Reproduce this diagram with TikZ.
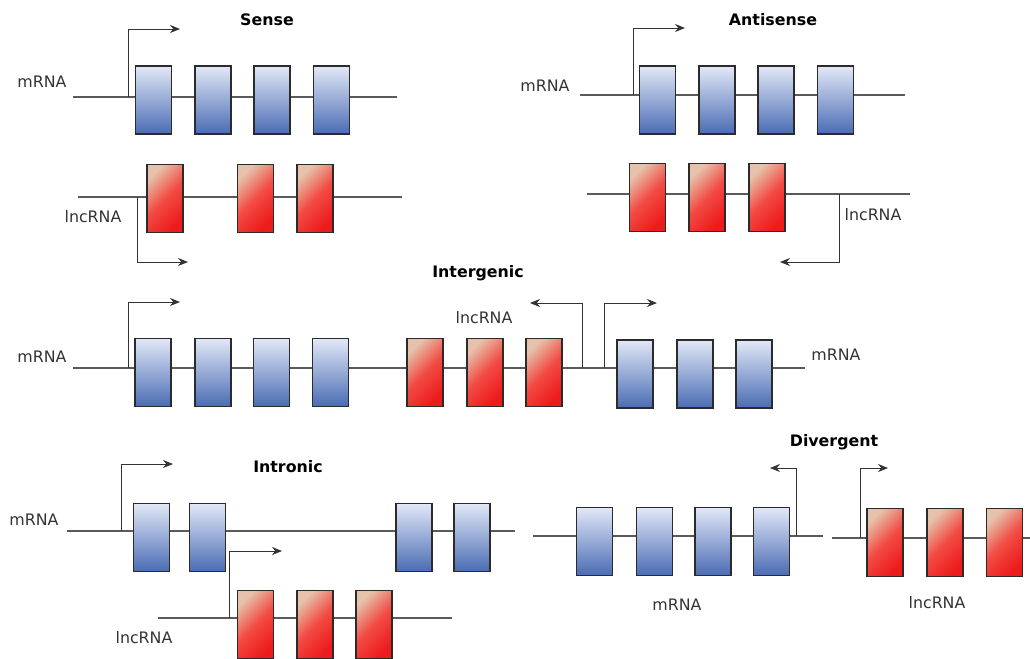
\documentclass[tikz,border=0pt]{standalone}
\usepackage{fontspec}
\setmainfont{DejaVu Sans}
\usetikzlibrary{arrows.meta}
\definecolor{bluetop}{HTML}{E2E8F7}
\definecolor{bluebot}{HTML}{4A6CB4}
\definecolor{redtop}{HTML}{E6C2AC}
\definecolor{redbot}{HTML}{EC1C1C}
\definecolor{boxline}{HTML}{2B2B2B}
\definecolor{backbone}{HTML}{5A5A5A}
\definecolor{labelgray}{HTML}{333333}
\tikzset{
  exon/.style={rectangle, draw=boxline, line width=1.4pt, minimum width=1.08cm, minimum height=2.04cm, inner sep=0pt},
  bluebox/.style={exon, top color=bluetop, bottom color=bluebot},
  redbox/.style={exon, top color=redtop, bottom color=redbot, middle color=red!55!redtop!80!redbot, shading angle=45},
  strand/.style={draw=backbone, line width=1pt},
  tss/.style={draw=black!80, line width=0.8pt, -{Stealth[length=3mm,width=2.4mm]}},
  lbl/.style={text=labelgray, font=\fontsize{13.5}{16}\selectfont, inner sep=0pt},
  ttl/.style={text=black, font=\fontsize{13.5}{16}\selectfont\bfseries, inner sep=0pt}
}
\begin{document}
\begin{tikzpicture}[x=0.03cm, y=-0.03cm]
\path[use as bounding box, fill=white] (0,0) rectangle (1030,658);

% ---------------- Sense ----------------
\node[ttl] (tSense) at (267,20) {Sense};
\node[lbl] (lSm) at (42,82) {mRNA};
\node[lbl] (lSl) at (93,217) {lncRNA};
\coordinate (sA) at (73,97); \coordinate (sB) at (397,97);
\coordinate (sC) at (78,197); \coordinate (sD) at (402,197);
\coordinate (sP1) at (128,97); \coordinate (sE1) at (180,29);
\coordinate (sP2) at (137,197); \coordinate (sE2) at (188,262);
\draw[strand] (sA) -- (sB);
\draw[strand] (sC) -- (sD);
\draw[tss] (sP1) |- (sE1);
\draw[tss] (sP2) |- (sE2);
\node[bluebox] (sb1) at (153.5,100) {};
\node[bluebox] (sb2) at (213,100) {};
\node[bluebox] (sb3) at (272,100) {};
\node[bluebox] (sb4) at (331.5,100) {};
\node[redbox] (sr1) at (165,198.5) {};
\node[redbox] (sr2) at (255.5,198.5) {};
\node[redbox] (sr3) at (315,198.5) {};

% ---------------- Antisense ----------------
\node[ttl] (tAnti) at (773,20) {Antisense};
\node[lbl] (lAm) at (545,86) {mRNA};
\node[lbl] (lAl) at (873,215) {lncRNA};
\coordinate (aA) at (580,95); \coordinate (aB) at (905,95);
\coordinate (aC) at (587,194); \coordinate (aD) at (910,194);
\coordinate (aP1) at (633,95); \coordinate (aE1) at (685,28);
\coordinate (aP2) at (839,194); \coordinate (aE2) at (780,262);
\draw[strand] (aA) -- (aB);
\draw[strand] (aC) -- (aD);
\draw[tss] (aP1) |- (aE1);
\draw[tss] (aP2) |- (aE2);
\node[bluebox] (ab1) at (657.5,100) {};
\node[bluebox] (ab2) at (717,100) {};
\node[bluebox] (ab3) at (776,100) {};
\node[bluebox] (ab4) at (835.5,100) {};
\node[redbox] (ar1) at (647.5,197.5) {};
\node[redbox] (ar2) at (707,197.5) {};
\node[redbox] (ar3) at (767,197.5) {};

% ---------------- Intergenic ----------------
\node[ttl] (tInter) at (478,273) {Intergenic};
\node[lbl] (lIm1) at (42,357) {mRNA};
\node[lbl] (lIm2) at (836,355) {mRNA};
\node[lbl] (lIl) at (484,318) {lncRNA};
\coordinate (iA) at (73,368); \coordinate (iB) at (805,368);
\coordinate (iP1) at (128,368); \coordinate (iE1) at (180,302);
\coordinate (iP2) at (582,368); \coordinate (iE2) at (530,303);
\coordinate (iP3) at (604,368); \coordinate (iE3) at (657,303);
\draw[strand] (iA) -- (iB);
\draw[tss] (iP1) |- (iE1);
\draw[tss] (iP2) |- (iE2);
\draw[tss] (iP3) |- (iE3);
\node[bluebox] (ib1) at (153,372.5) {};
\node[bluebox] (ib2) at (213,372.5) {};
\node[bluebox] (ib3) at (271.5,372.5) {};
\node[bluebox] (ib4) at (330.5,372.5) {};
\node[redbox] (ir1) at (425,372.5) {};
\node[redbox] (ir2) at (485,372.5) {};
\node[redbox] (ir3) at (544,372.5) {};
\node[bluebox] (ib5) at (635,374) {};
\node[bluebox] (ib6) at (695,374) {};
\node[bluebox] (ib7) at (754,374) {};

% ---------------- Intronic ----------------
\node[ttl] (tIntr) at (288,467) {Intronic};
\node[lbl] (lNm) at (34,520) {mRNA};
\node[lbl] (lNl) at (144,638) {lncRNA};
\coordinate (nA) at (67,531); \coordinate (nB) at (515,531);
\coordinate (nC) at (158,618); \coordinate (nD) at (452,618);
\coordinate (nP1) at (121,531); \coordinate (nE1) at (173,464);
\coordinate (nP2) at (229,618); \coordinate (nE2) at (282,551);
\draw[strand] (nA) -- (nB);
\draw[strand] (nC) -- (nD);
\draw[tss] (nP1) |- (nE1);
\draw[tss] (nP2) |- (nE2);
\node[bluebox] (nb1) at (151.5,537.5) {};
\node[bluebox] (nb2) at (207.5,537.5) {};
\node[bluebox] (nb3) at (414,537.5) {};
\node[bluebox] (nb4) at (472,537.5) {};
\node[redbox] (nr1) at (255.5,624.5) {};
\node[redbox] (nr2) at (315,624.5) {};
\node[redbox] (nr3) at (374,624.5) {};

% ---------------- Divergent ----------------
\node[ttl] (tDiv) at (834,442) {Divergent};
\node[lbl] (lDm) at (677,605) {mRNA};
\node[lbl] (lDl) at (937,603) {lncRNA};
\coordinate (dA) at (533,536); \coordinate (dB) at (823,536);
\coordinate (dC) at (832,538); \coordinate (dD) at (1030,538);
\coordinate (dP1) at (796,536); \coordinate (dE1) at (770,468);
\coordinate (dP2) at (860,538); \coordinate (dE2) at (888,468);
\draw[strand] (dA) -- (dB);
\draw[strand] (dC) -- (dD);
\draw[tss] (dP1) |- (dE1);
\draw[tss] (dP2) |- (dE2);
\node[bluebox] (db1) at (594.5,541.5) {};
\node[bluebox] (db2) at (654.5,541.5) {};
\node[bluebox] (db3) at (713,541.5) {};
\node[bluebox] (db4) at (771.5,541.5) {};
\node[redbox] (dr1) at (885,542.5) {};
\node[redbox] (dr2) at (945,542.5) {};
\node[redbox] (dr3) at (1004.5,542.5) {};
\end{tikzpicture}
\end{document}
